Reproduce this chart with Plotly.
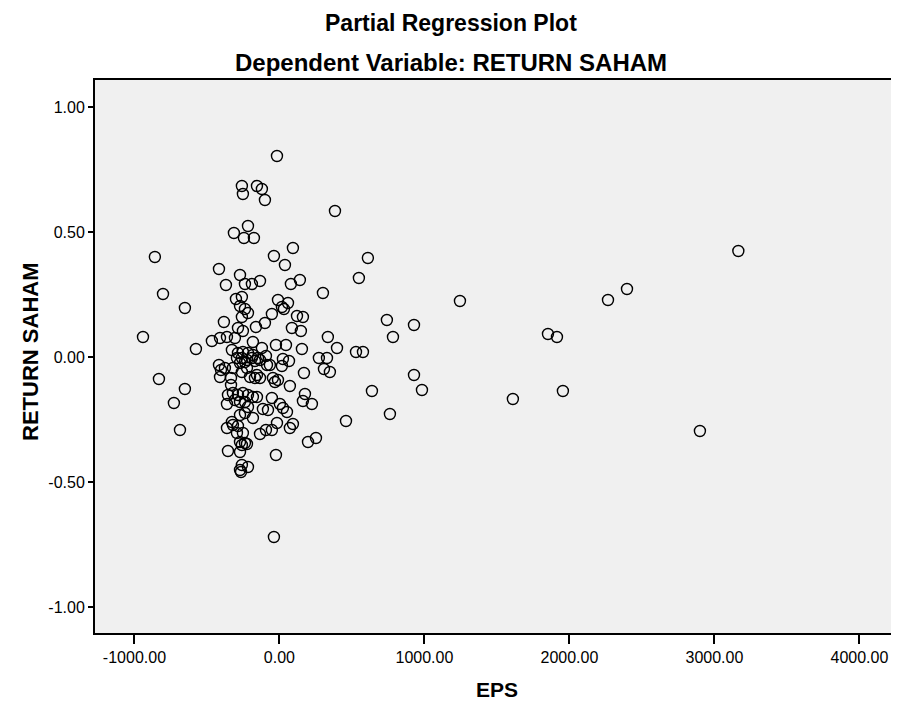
import plotly.graph_objects as go

# EPS (x) and RETURN SAHAM (y) values
eps = [
    -17, -259, -252, -155, -121, -100, 383, -217, -314, -245,
    -176, -859, 93, -38, 610, 38, -417, -272, 548, -369,
    -238, -190, -134, 141, 79, 300, -803, 2266, 2397, 1245,
    -300, -259, -10, 59, -652, -272, -238, -217, 17, 31,
    -52, 121, 162, -259, -383, -100, 741, 928, -162, 86,
    148, -286, -252, 783, 1852, 1914, 334, -941, -466, -410,
    -362, -307, -183, -24, 45, -121, 155, 397, -576, -328,
    528, 576, -286, -252, -217, -183, -148, -293, -259, -224,
    -190, -169, -272, -238, -93, -86, -134, -66, 24, 66,
    17, 272, 328, 307, 348, 169, -417, -403, -376, -410,
    -321, -259, -224, -155, -203, -334, -334, -169, -45, -10,
    -31, -134, 72, -831, -652, -728, -686, -355, -321, -286,
    -252, -217, -183, -362, -307, -272, -238, -217, -155, -52,
    176, 162, 224, -114, -79, 3, 24, 52, -272, -238,
    -183, -328, -17, 93, 72, -93, -52, -134, -362, -321,
    -286, -293, -252, -272, -238, -259, -224, -355, -272, -24,
    197, 252, 459, 762, 638, 983, 928, -259, -217, -272,
    -265, -38, 1955, 1610, 2900, 3165,
]
ret = [
    0.804, 0.684, 0.652, 0.684, 0.672, 0.628, 0.584, 0.524, 0.496, 0.476,
    0.476, 0.400, 0.436, 0.404, 0.396, 0.368, 0.352, 0.328, 0.316, 0.288,
    0.292, 0.292, 0.304, 0.308, 0.292, 0.256, 0.252, 0.228, 0.272, 0.224,
    0.232, 0.240, 0.228, 0.216, 0.196, 0.204, 0.192, 0.176, 0.200, 0.192,
    0.172, 0.164, 0.160, 0.160, 0.140, 0.136, 0.148, 0.128, 0.120, 0.116,
    0.104, 0.116, 0.104, 0.080, 0.092, 0.080, 0.080, 0.080, 0.064, 0.076,
    0.080, 0.076, 0.060, 0.048, 0.048, 0.036, 0.032, 0.036, 0.032, 0.028,
    0.020, 0.020, 0.016, 0.020, 0.016, 0.008, -0.004, -0.004, -0.004, -0.012,
    -0.004, -0.016, -0.024, -0.020, 0.004, -0.032, -0.012, -0.032, -0.008, -0.016,
    -0.036, -0.004, -0.004, -0.048, -0.060, -0.064, -0.032, -0.052, -0.044, -0.080,
    -0.044, -0.060, -0.044, -0.072, -0.080, -0.084, -0.112, -0.084, -0.084, -0.092,
    -0.100, -0.084, -0.116, -0.088, -0.128, -0.184, -0.292, -0.152, -0.144, -0.152,
    -0.144, -0.152, -0.160, -0.188, -0.172, -0.180, -0.180, -0.200, -0.160, -0.164,
    -0.148, -0.176, -0.188, -0.208, -0.212, -0.188, -0.204, -0.220, -0.232, -0.224,
    -0.244, -0.260, -0.264, -0.268, -0.284, -0.292, -0.292, -0.308, -0.284, -0.272,
    -0.276, -0.304, -0.304, -0.340, -0.344, -0.352, -0.348, -0.376, -0.380, -0.392,
    -0.340, -0.324, -0.256, -0.228, -0.136, -0.132, -0.072, -0.432, -0.440, -0.452,
    -0.460, -0.720, -0.136, -0.168, -0.296, 0.424,
]

x_ticks = [-1000, 0, 1000, 2000, 3000, 4000]
x_labels = ["-1000.00", "0.00", "1000.00", "2000.00", "3000.00", "4000.00"]
y_ticks = [-1.0, -0.5, 0.0, 0.5, 1.0]
y_labels = ["-1.00", "-0.50", "0.00", "0.50", "1.00"]

FONT = "Liberation Sans, Arial, sans-serif"

fig = go.Figure()
fig.add_trace(go.Scatter(
    x=eps, y=ret, mode="markers",
    marker=dict(symbol="circle-open", size=11, color="black",
                line=dict(color="black", width=1.4)),
    showlegend=False, hoverinfo="x+y",
))

# the page body adds an 8px margin, so the figure is 8px smaller than the window
fig.update_layout(
    width=891, height=696,
    margin=dict(l=87, r=0, t=72, b=71, autoexpand=False),
    paper_bgcolor="white",
    plot_bgcolor="#f0f0f0",
    font=dict(family=FONT, color="black", size=16),
    xaxis=dict(
        range=[-1272, 4273], tickvals=x_ticks, ticktext=x_labels,
        showgrid=False, zeroline=False,
        showline=True, linecolor="black", linewidth=2, mirror=True,
        ticks="outside", ticklen=9, tickwidth=1.5, tickcolor="black",
        tickfont=dict(size=16, family=FONT),
    ),
    yaxis=dict(
        range=[-1.104, 1.108], tickvals=y_ticks, ticktext=y_labels,
        showgrid=False, zeroline=False,
        showline=True, linecolor="black", linewidth=2, mirror=False,
        ticks="outside", ticklen=5, tickwidth=1.5, tickcolor="black",
        tickfont=dict(size=16, family=FONT),
    ),
    annotations=[
        dict(text="<b>Partial Regression Plot</b>", xref="paper", yref="paper",
             x=0.443, y=1.129, xanchor="center", yanchor="top",
             showarrow=False, borderpad=0, font=dict(size=23, family=FONT)),
        dict(text="<b>Dependent Variable: RETURN SAHAM</b>", xref="paper", yref="paper",
             x=0.443, y=1.0325, xanchor="center", yanchor="middle",
             showarrow=False, font=dict(size=24, family=FONT)),
        dict(text="<b>RETURN SAHAM</b>", xref="paper", yref="paper",
             x=-0.081, y=0.508, xanchor="center", yanchor="middle", textangle=-90,
             showarrow=False, font=dict(size=22, family=FONT)),
        dict(text="<b>EPS</b>", xref="paper", yref="paper",
             x=0.5, y=-0.103, xanchor="center", yanchor="middle",
             showarrow=False, font=dict(size=21, family=FONT)),
    ],
)

fig.write_html("out.html")
